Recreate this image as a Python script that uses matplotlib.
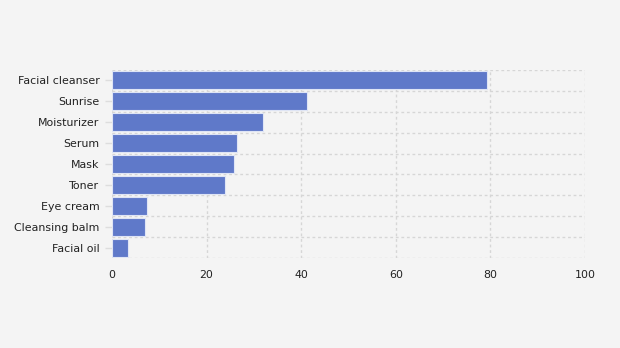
import matplotlib.pyplot as plt

categories = ['Facial cleanser', 'Sunrise', 'Moisturizer', 'Serum', 'Mask',
              'Toner', 'Eye cream', 'Cleansing balm', 'Facial oil']
values = [79.3, 41.2, 31.9, 26.4, 25.8, 23.9, 7.4, 7.0, 3.4]

bg = '#f4f4f4'
grid_color = '#d6d6d6'

fig = plt.figure(figsize=(6.2, 3.48), dpi=100, facecolor=bg)
ax = fig.add_axes([112 / 620, 1 - 258 / 348, 473 / 620, 188 / 348])
ax.set_facecolor(bg)

ypos = list(range(len(categories)))
ax.barh(ypos, values, height=0.86, color='#5f79c9', edgecolor='#dfe5f5',
        linewidth=0.8, zorder=3)

ax.set_xlim(0, 100)
ax.set_ylim(len(categories) - 0.5, -0.5)
ax.set_xticks([0, 20, 40, 60, 80, 100])
ax.set_yticks(ypos)
ax.set_yticklabels(categories)

# dashed grid on value ticks and on category boundaries
for x in [0, 20, 40, 60, 80, 100]:
    ax.axvline(x, color=grid_color, linestyle=(0, (2, 2)), linewidth=1, zorder=1)
for y in [k - 0.5 for k in range(len(categories) + 1)]:
    ax.axhline(y, color=grid_color, linestyle=(0, (2, 2)), linewidth=1, zorder=1)

for spine in ax.spines.values():
    spine.set_visible(False)

ax.tick_params(axis='y', length=5, width=1, color='#dddddd', pad=4,
               labelsize=7.9, labelcolor='#222222')
ax.tick_params(axis='x', length=0, pad=9, labelsize=7.9, labelcolor='#222222')

fig.savefig('out.png', dpi=100, facecolor=bg)
